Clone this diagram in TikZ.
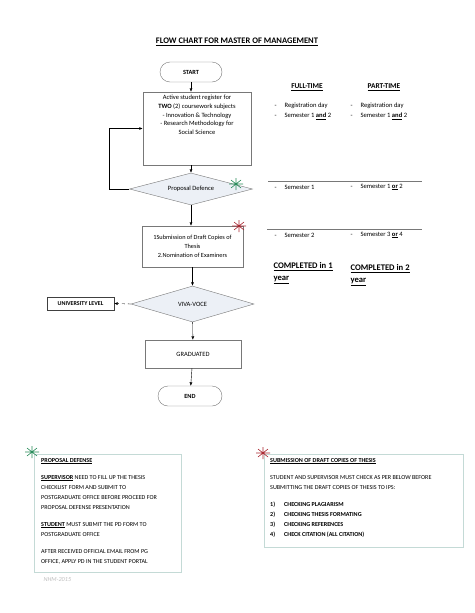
\documentclass[tikz,border=0pt]{standalone}
\usepackage{fontspec}
\setmainfont{Carlito}
\usetikzlibrary{shapes.geometric,arrows.meta}
\definecolor{flowgray}{RGB}{120,120,120}
\definecolor{decfill}{RGB}{236,240,246}
\definecolor{notegray}{RGB}{196,218,214}
\definecolor{stargreen}{RGB}{40,140,90}
\definecolor{starred}{RGB}{170,40,50}
\newcommand{\markstar}[2]{%
  \draw[#2, line width=0.6pt] (#1) ++(-7,0) -- ++(14,0)
    (#1) ++(-5,-4) -- ++(10,8) (#1) ++(-5,4) -- ++(10,-8)
    (#1) ++(0,-6) -- ++(0,12);}

\begin{document}
\begin{tikzpicture}[x=1pt,y=-1pt,
  termnode/.style={rectangle, rounded corners=10pt, draw=flowgray, minimum height=20pt, font=\fontsize{6.3}{8}\selectfont\bfseries},
  procnode/.style={rectangle, draw=flowgray, align=center, font=\fontsize{6.5}{8.6}\selectfont},
  decnode/.style={diamond, draw=flowgray, fill=decfill, aspect=3.8, inner sep=0pt, minimum width=123pt, font=\fontsize{6.5}{8}\selectfont},
  flowarrow/.style={-{Latex[length=3.5pt,width=3pt]}, black},
  coltext/.style={anchor=west, font=\fontsize{6.6}{8}\selectfont},
  colhead/.style={font=\fontsize{7.4}{8}\selectfont\bfseries},
  donetext/.style={anchor=north west, align=left, font=\fontsize{8.6}{11.5}\selectfont\bfseries},
  notetext/.style={anchor=north west, align=left, font=\fontsize{6.1}{10}\selectfont}]
  \useasboundingbox[fill=white] (0,0) rectangle (474,613);

  \node[font=\fontsize{8.5}{10}\selectfont\bfseries] (title) at (237,42) {\underline{FLOW CHART FOR MASTER OF MANAGEMENT}};

  % flow chart
  \node[termnode, minimum width=62pt] (start) at (191,72) {START};
  \node[procnode, minimum width=108pt, minimum height=73pt] (reg) at (197,128.5) {};
  \node[procnode, draw=none, anchor=north] (regtxt) at (reg.north) {Active student register for\\ \textbf{TWO} (2) coursework subjects\\ - Innovation \& Technology\\ - Research Methodology for\\ Social Science};
  \node[decnode, minimum height=32pt] (pd) at (191,189) {Proposal Defence};
  \node[procnode, minimum width=101pt, minimum height=41pt, font=\fontsize{6.3}{8.8}\selectfont] (sub) at (192.5,246.5) {1Submission of Draft Copies of\\ Thesis\\ 2.Nomination of Examiners};
  \node[decnode, minimum height=36pt] (viva) at (192.5,304) {VIVA-VOCE};
  \node[procnode, draw=black!75, minimum width=67pt, minimum height=13pt, inner sep=1pt, font=\fontsize{6}{7}\selectfont\bfseries] (uni) at (80.5,303.5) {UNIVERSITY LEVEL};
  \node[procnode, minimum width=96pt, minimum height=28pt] (grad) at (193,354) {GRADUATED};
  \node[termnode, minimum width=64pt] (end) at (190,396) {END};

  \draw[flowarrow] (start) -- (start |- reg.north);
  \draw[flowarrow] (pd |- reg.south) -- (pd);
  \draw[flowarrow, line width=1pt] (pd.west) -- ++(-20,0) |- (reg.west);
  \draw[flowarrow] (pd) -- (pd |- sub.north);
  \draw[flowarrow] (sub) -- (viva);
  \draw[flowarrow, dashed] (viva.west) -- (uni.east);
  \draw[flowarrow] (viva) -- (grad);
  \draw[flowarrow] (grad) -- (end);

  \markstar{236,184}{stargreen}
  \markstar{239,226}{starred}

  % study mode columns
  \node[colhead] (ft) at (307,87) {\underline{FULL-TIME}};
  \node[colhead] (pt) at (384,87) {\underline{PART-TIME}};
  \node[coltext] (ft1) at (271,106) {\makebox[10pt][l]{-}Registration day};
  \node[coltext] (ft2) at (271,116) {\makebox[10pt][l]{-}Semester 1 \textbf{\underline{and}} 2};
  \node[coltext] (pt1) at (347,106) {\makebox[10pt][l]{-}Registration day};
  \node[coltext] (pt2) at (347,116) {\makebox[10pt][l]{-}Semester 1 \textbf{\underline{and}} 2};
  \draw[flowgray, line width=0.6pt] (268,181) -- (422,181);
  \node[coltext] (ft3) at (271,187) {\makebox[10pt][l]{-}Semester 1};
  \node[coltext] (pt3) at (347,187) {\makebox[10pt][l]{-}Semester 1 \textbf{\underline{or}} 2};
  \draw[flowgray, line width=0.6pt] (267,229) -- (422,229);
  \node[coltext] (ft4) at (271,235) {\makebox[10pt][l]{-}Semester 2};
  \node[coltext] (pt4) at (347,235) {\makebox[10pt][l]{-}Semester 3 \textbf{\underline{or}} 4};
  \node[donetext] (ftdone) at (270,259) {\underline{COMPLETED in 1}\\ \underline{year}};
  \node[donetext] (ptdone) at (347,261) {\underline{COMPLETED in 2}\\ \underline{year}};

  % notes
  \node[draw=notegray, minimum width=147pt, minimum height=118pt] (pdbox) at (107.5,513) {};
  \node[notetext, inner sep=0pt] (pdtxt) at (41,458) {\textbf{\underline{PROPOSAL DEFENSE}}\\[7pt]
    \textbf{\underline{SUPERVISOR}} NEED TO FILL UP THE THESIS\\ CHECKLIST FORM AND SUBMIT TO\\ POSTGRADUATE OFFICE BEFORE PROCEED FOR\\ PROPOSAL DEFENSE PRESENTATION\\[7pt]
    \textbf{\underline{STUDENT}} MUST SUBMIT THE PD FORM TO\\ POSTGRADUATE OFFICE\\[7pt]
    AFTER RECEIVED OFFICIAL EMAIL FROM PG\\ OFFICE, APPLY PD IN THE STUDENT PORTAL};
  \node[anchor=west, text=black!25, font=\fontsize{6.2}{8}\selectfont\itshape] (nhm) at (40,580) {NHM-2015};
  \markstar{32,452}{stargreen}

  \node[draw=notegray, minimum width=199pt, minimum height=93pt] (sdbox) at (363.5,500.5) {};
  \node[notetext, inner sep=0pt] (sdtxt) at (270,458) {\textbf{\underline{SUBMISSION OF DRAFT COPIES OF THESIS}}\\[7pt]
    STUDENT AND SUPERVISOR MUST CHECK AS PER BELOW BEFORE\\ SUBMITTING THE DRAFT COPIES OF THESIS TO IPS:\\[7pt]
    \bfseries\makebox[14pt][l]{1)}CHECKING PLAGIARISM\\
    \bfseries\makebox[14pt][l]{2)}CHECKING THESIS FORMATING\\
    \bfseries\makebox[14pt][l]{3)}CHECKING REFERENCES\\
    \bfseries\makebox[14pt][l]{4)}CHECK CITATION (ALL CITATION)};
  \markstar{263,453}{starred}
\end{tikzpicture}
\end{document}
